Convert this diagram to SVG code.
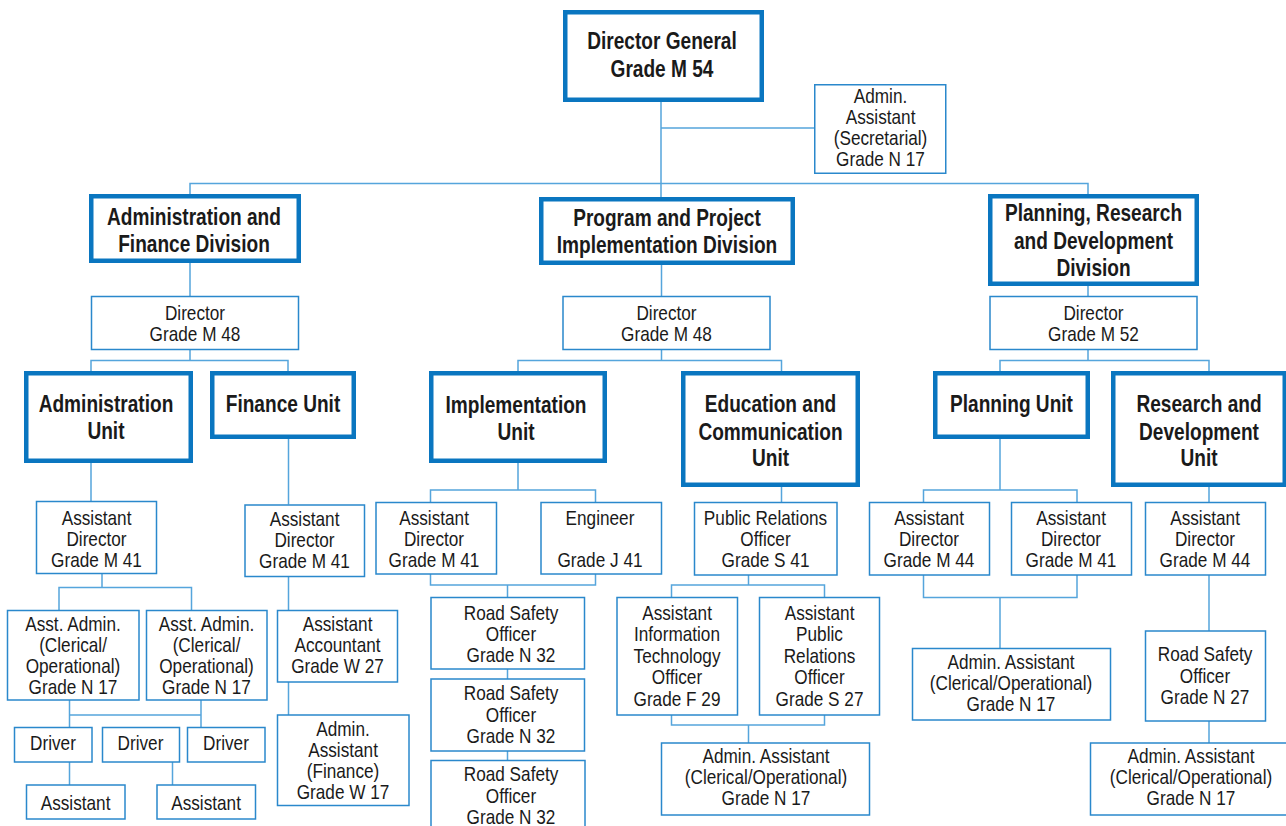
<svg xmlns="http://www.w3.org/2000/svg" width="1286" height="826" viewBox="0 0 1286 826">
<style>
.thick{fill:#fff;stroke:#0a76c0;stroke-width:4.5}
.thin{fill:#fff;stroke:#2a88cc;stroke-width:1.5}
.ln{fill:none;stroke:#55a5dc;stroke-width:1.5}
text{font-family:"Liberation Sans",Arial,sans-serif;text-anchor:middle;fill:#1a1a1a;transform-box:fill-box;transform-origin:center}
.b{font-size:23px;font-weight:bold;transform:scaleX(0.83)}
.r{font-size:20px;transform:scaleX(0.86)}
</style>
<rect width="1286" height="826" fill="#fff"/>
<g id="connectors">
<path class="ln" d="M661,102V197M661,128H814M190,194V183.5H1088V194"/>
<path class="ln" d="M190,263V296M661.5,265V296M1088,286V296"/>
<path class="ln" d="M190,350V360.5M91,371V360.5H288V371M661.5,350V360.5M518,371V360.5H781.5V371M1088,350V360.5M1000,371V360.5H1209V371"/>
<path class="ln" d="M91,463V501M288.5,439V504.5M518,463V490M430.5,502V490H595.5V502M781.5,487V502M1000,439V490M923.5,502V490H1077V502M1209,487V502"/>
<path class="ln" d="M102,574V587.5M59,610V587.5H191.5V610M69.5,700V727M201,700V727M69.5,715H201M69.5,762V785M172.5,762V785"/>
<path class="ln" d="M288.5,576.5V610M288.5,682V715"/>
<path class="ln" d="M430.5,574V585H595.5V574M507.5,585V597M507.5,669V679M507.5,751V760"/>
<path class="ln" d="M748.5,575V585M671.5,597V585H824.5V597M671.5,715V725H824.5V715M748.5,725V743"/>
<path class="ln" d="M923.5,575V597.5H1077V575M1000,597.5V648M1209,575V631M1209,721V743"/>
</g>
<g id="dg"><rect class="thick" x="565.25" y="12.25" width="196.5" height="87.5"/><text class="b" x="662" y="49">Director General</text><text class="b" x="662" y="77">Grade M 54</text></g>
<g id="aas"><rect class="thin" x="814.75" y="84.75" width="131" height="88.5"/><text class="r" x="880.5" y="103">Admin.</text><text class="r" x="880.5" y="124">Assistant</text><text class="r" x="880.5" y="145">(Secretarial)</text><text class="r" x="880.5" y="166.5">Grade N 17</text></g>
<g id="afd"><rect class="thick" x="91.25" y="196.25" width="207.5" height="64.5"/><text class="b" x="194" y="225.5">Administration and</text><text class="b" x="194" y="252.5">Finance Division</text></g>
<g id="ppid"><rect class="thick" x="541.25" y="199.25" width="251.5" height="63.5"/><text class="b" x="667" y="226.5">Program and Project</text><text class="b" x="667" y="253">Implementation Division</text></g>
<g id="prdd"><rect class="thick" x="990.25" y="196.25" width="206.5" height="87.5"/><text class="b" x="1093.5" y="221.5">Planning, Research</text><text class="b" x="1093.5" y="249">and Development</text><text class="b" x="1093.5" y="276.5">Division</text></g>
<g id="dir1"><rect class="thin" x="91.5" y="296.5" width="207" height="53"/><text class="r" x="195" y="320.5">Director</text><text class="r" x="195" y="341">Grade M 48</text></g>
<g id="dir2"><rect class="thin" x="563" y="296.5" width="207" height="53"/><text class="r" x="666.5" y="320.5">Director</text><text class="r" x="666.5" y="341">Grade M 48</text></g>
<g id="dir3"><rect class="thin" x="990" y="296.5" width="207" height="53"/><text class="r" x="1093.5" y="320.5">Director</text><text class="r" x="1093.5" y="341">Grade M 52</text></g>
<g id="au"><rect class="thick" x="26.25" y="373.25" width="164.5" height="87.5"/><text class="b" x="106" y="412.5">Administration</text><text class="b" x="106" y="439.5">Unit</text></g>
<g id="fu"><rect class="thick" x="212.25" y="373.25" width="141.5" height="63.5"/><text class="b" x="283" y="412.5">Finance Unit</text></g>
<g id="iu"><rect class="thick" x="431.25" y="373.25" width="173.5" height="87.5"/><text class="b" x="516" y="413">Implementation</text><text class="b" x="516" y="440">Unit</text></g>
<g id="ecu"><rect class="thick" x="683.25" y="373.25" width="174.5" height="111.5"/><text class="b" x="770.5" y="412.5">Education and</text><text class="b" x="770.5" y="440">Communication</text><text class="b" x="770.5" y="466.5">Unit</text></g>
<g id="pu"><rect class="thick" x="935.25" y="373.25" width="152.5" height="63.5"/><text class="b" x="1011.5" y="412.5">Planning Unit</text></g>
<g id="rdu"><rect class="thick" x="1113.25" y="373.25" width="171.5" height="111.5"/><text class="b" x="1199" y="412.5">Research and</text><text class="b" x="1199" y="440">Development</text><text class="b" x="1199" y="466.5">Unit</text></g>
<g id="ad-a"><rect class="thin" x="36.5" y="501.5" width="120" height="72"/><text class="r" x="96.5" y="525">Assistant</text><text class="r" x="96.5" y="546.5">Director</text><text class="r" x="96.5" y="567.5">Grade M 41</text></g>
<g id="ad-f"><rect class="thin" x="245" y="505" width="119.5" height="71.5"/><text class="r" x="304.5" y="526">Assistant</text><text class="r" x="304.5" y="547">Director</text><text class="r" x="304.5" y="568">Grade M 41</text></g>
<g id="ad-i"><rect class="thin" x="376" y="502.5" width="120.5" height="71.5"/><text class="r" x="434" y="525">Assistant</text><text class="r" x="434" y="546.5">Director</text><text class="r" x="434" y="567.5">Grade M 41</text></g>
<g id="eng"><rect class="thin" x="541" y="502.5" width="120.5" height="71.5"/><text class="r" x="600" y="525">Engineer</text><text class="r" x="600" y="567.5">Grade J 41</text></g>
<g id="pro"><rect class="thin" x="694.5" y="502.5" width="142.5" height="72.5"/><text class="r" x="765.5" y="525">Public Relations</text><text class="r" x="765.5" y="546.5">Officer</text><text class="r" x="765.5" y="567.5">Grade S 41</text></g>
<g id="ad-p1"><rect class="thin" x="869.5" y="502.5" width="120" height="72.5"/><text class="r" x="929" y="525">Assistant</text><text class="r" x="929" y="546.5">Director</text><text class="r" x="929" y="567.5">Grade M 44</text></g>
<g id="ad-p2"><rect class="thin" x="1011.5" y="502.5" width="120" height="72.5"/><text class="r" x="1071" y="525">Assistant</text><text class="r" x="1071" y="546.5">Director</text><text class="r" x="1071" y="567.5">Grade M 41</text></g>
<g id="ad-r"><rect class="thin" x="1145.5" y="502.5" width="120" height="72.5"/><text class="r" x="1205" y="525">Assistant</text><text class="r" x="1205" y="546.5">Director</text><text class="r" x="1205" y="567.5">Grade M 44</text></g>
<g id="aa1"><rect class="thin" x="7.5" y="610.5" width="131.5" height="89.5"/><text class="r" x="73" y="631">Asst. Admin.</text><text class="r" x="73" y="652">(Clerical/</text><text class="r" x="73" y="673">Operational)</text><text class="r" x="73" y="694">Grade N 17</text></g>
<g id="aa2"><rect class="thin" x="146.5" y="610.5" width="120.5" height="89.5"/><text class="r" x="206.5" y="631">Asst. Admin.</text><text class="r" x="206.5" y="652">(Clerical/</text><text class="r" x="206.5" y="673">Operational)</text><text class="r" x="206.5" y="694">Grade N 17</text></g>
<g id="dr1"><rect class="thin" x="14.5" y="727.5" width="77.5" height="34.5"/><text class="r" x="53" y="750.5">Driver</text></g>
<g id="dr2"><rect class="thin" x="102.5" y="727.5" width="77" height="34.5"/><text class="r" x="140.5" y="750.5">Driver</text></g>
<g id="dr3"><rect class="thin" x="187.5" y="727.5" width="77.5" height="34.5"/><text class="r" x="226" y="750.5">Driver</text></g>
<g id="as1"><rect class="thin" x="26.5" y="785" width="98.5" height="34"/><text class="r" x="75.5" y="810">Assistant</text></g>
<g id="as2"><rect class="thin" x="157" y="785" width="98.5" height="34"/><text class="r" x="206" y="810">Assistant</text></g>
<g id="acc"><rect class="thin" x="277.5" y="610.5" width="120" height="71.5"/><text class="r" x="337.5" y="631">Assistant</text><text class="r" x="337.5" y="652">Accountant</text><text class="r" x="337.5" y="673">Grade W 27</text></g>
<g id="aaf"><rect class="thin" x="277.5" y="715" width="131.5" height="90.5"/><text class="r" x="343" y="736">Admin.</text><text class="r" x="343" y="757">Assistant</text><text class="r" x="343" y="778">(Finance)</text><text class="r" x="343" y="799">Grade W 17</text></g>
<g id="rs1"><rect class="thin" x="431" y="597.5" width="153.5" height="71.5"/><text class="r" x="511" y="620">Road Safety</text><text class="r" x="511" y="641.5">Officer</text><text class="r" x="511" y="662.5">Grade N 32</text></g>
<g id="rs2"><rect class="thin" x="431" y="679" width="153.5" height="72"/><text class="r" x="511" y="700.5">Road Safety</text><text class="r" x="511" y="722">Officer</text><text class="r" x="511" y="743">Grade N 32</text></g>
<g id="rs3"><rect class="thin" x="431" y="760.5" width="154" height="80"/><text class="r" x="511" y="781.5">Road Safety</text><text class="r" x="511" y="803">Officer</text><text class="r" x="511" y="824">Grade N 32</text></g>
<g id="ait"><rect class="thin" x="617" y="597.5" width="120.5" height="117.5"/><text class="r" x="677" y="620">Assistant</text><text class="r" x="677" y="641.5">Information</text><text class="r" x="677" y="663">Technology</text><text class="r" x="677" y="684.5">Officer</text><text class="r" x="677" y="706">Grade F 29</text></g>
<g id="apr"><rect class="thin" x="759.5" y="597.5" width="120" height="117.5"/><text class="r" x="819.5" y="620">Assistant</text><text class="r" x="819.5" y="641.5">Public</text><text class="r" x="819.5" y="663">Relations</text><text class="r" x="819.5" y="684.5">Officer</text><text class="r" x="819.5" y="706">Grade S 27</text></g>
<g id="aae"><rect class="thin" x="661.5" y="743" width="208" height="72"/><text class="r" x="766" y="763.5">Admin. Assistant</text><text class="r" x="766" y="784.5">(Clerical/Operational)</text><text class="r" x="766" y="805.5">Grade N 17</text></g>
<g id="aap"><rect class="thin" x="912.5" y="648.5" width="198" height="71.5"/><text class="r" x="1011" y="669.5">Admin. Assistant</text><text class="r" x="1011" y="690.5">(Clerical/Operational)</text><text class="r" x="1011" y="711">Grade N 17</text></g>
<g id="rsr"><rect class="thin" x="1145.5" y="631" width="120" height="90"/><text class="r" x="1205" y="661.5">Road Safety</text><text class="r" x="1205" y="683">Officer</text><text class="r" x="1205" y="704">Grade N 27</text></g>
<g id="aar"><rect class="thin" x="1090.5" y="743" width="202" height="72"/><text class="r" x="1191" y="763.5">Admin. Assistant</text><text class="r" x="1191" y="784.5">(Clerical/Operational)</text><text class="r" x="1191" y="805.5">Grade N 17</text></g>
</svg>
